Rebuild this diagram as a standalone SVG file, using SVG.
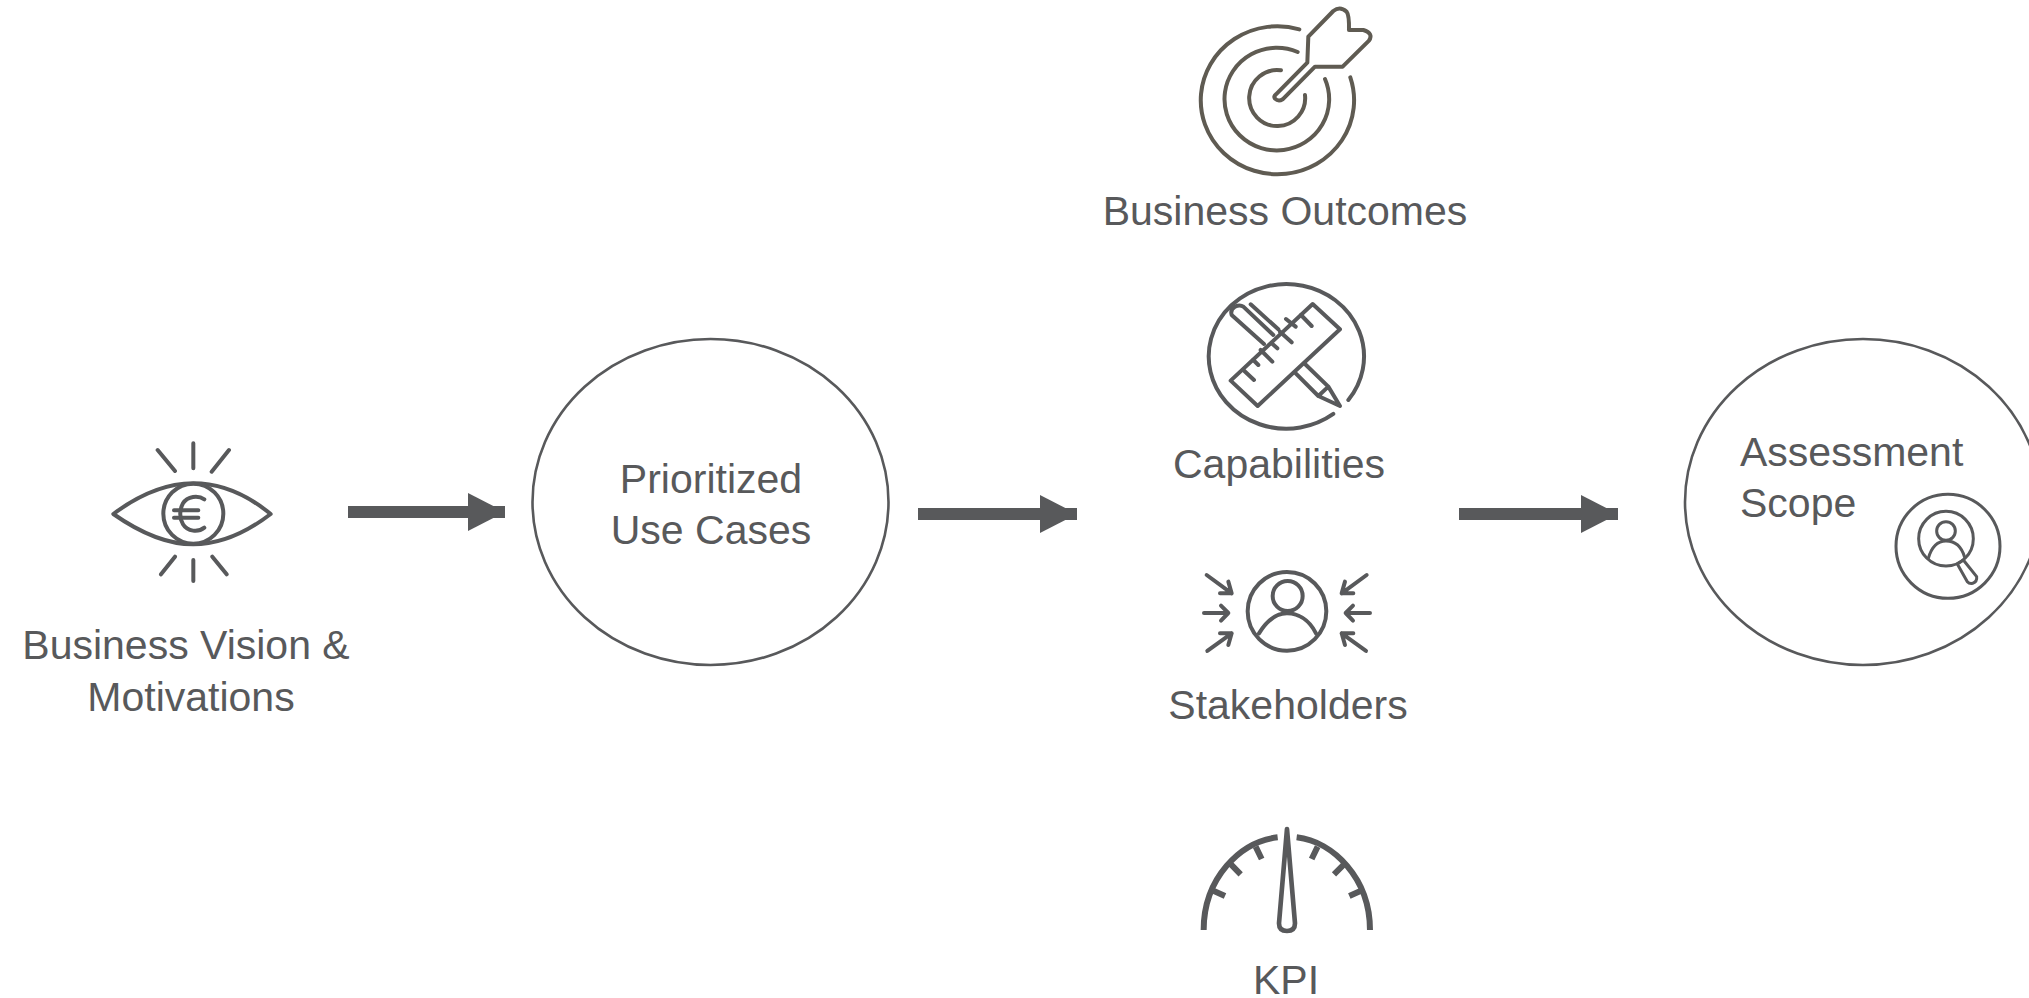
<svg xmlns="http://www.w3.org/2000/svg" width="2029" height="998" viewBox="0 0 2029 998">
<style>
text{font-family:"Liberation Sans",Arial,sans-serif;font-size:41px;fill:#58595b}
.m{text-anchor:middle}
.o{fill:none;stroke:#58595b;stroke-width:2.6px}
.i{fill:none;stroke:#58595b;stroke-width:12;stroke-linecap:round;stroke-linejoin:round}
.t{stroke:#5f5b52}
.a{fill:#58595b}
</style>
<defs>
<marker id="ah" markerUnits="userSpaceOnUse" markerWidth="37" markerHeight="38" refX="37" refY="19" orient="auto"><path class="a" d="M0 0L37 19L0 38Z"/></marker>
</defs>
<rect width="2029" height="998" fill="#fff"/>
<g id="connectors">
<line x1="348" y1="512" x2="505" y2="512" stroke="#58595b" stroke-width="12" marker-end="url(#ah)"/>
<line x1="918" y1="514" x2="1077" y2="514" stroke="#58595b" stroke-width="12" marker-end="url(#ah)"/>
<line x1="1459" y1="514" x2="1618" y2="514" stroke="#58595b" stroke-width="12" marker-end="url(#ah)"/>
</g>
<g id="vision">
<g class="i" transform="translate(100 435) scale(.3333)">
<path d="M40 237C130 170 205 145 280 145C355 145 430 170 512 237C430 300 355 328 280 328C205 328 130 300 40 237Z"/>
<circle cx="280" cy="236" r="90"/>
<path d="M313 193C295 180 262 183 249 205C238 225 238 250 249 268C262 290 295 293 313 278"/>
<path d="M222 226H295M222 248H295"/>
<path d="M280 25V100M173 45L225 108M387 45L335 110M225 365L183 418M280 375V438M337 365L380 418"/>
</g>
<text class="m" x="186" y="659">Business Vision &amp;</text>
<text class="m" x="191" y="711">Motivations</text>
</g>
<g id="usecases">
<ellipse class="o" cx="710.500" cy="502" rx="178" ry="163"/>
<text class="m" x="711" y="493">Prioritized</text>
<text class="m" x="711" y="544">Use Cases</text>
</g>
<g id="outcomes">
<g class="i t" transform="translate(1170 0) scale(.3333)">
<path d="M388 88A230 222 0 1 0 541 232"/>
<path d="M383 156A157 154 0 1 0 465 237"/>
<path d="M333 211A84 84 0 1 0 405 285"/>
<path d="M318 283L412 188L415 110L490 33Q510 17 530 35Q538 45 537 90H580Q612 100 597 122L518 200L435 200L338 298Q325 306 315 296Q310 290 318 283Z"/>
</g>
<text class="m" x="1285" y="225">Business Outcomes</text>
</g>
<g id="capabilities">
<g class="i" transform="translate(1190 270) scale(.3333)">
<path d="M475 390A233 217 0 1 0 430 432" />
<path d="M368 102L450 178L203 408L122 332Z"/>
<path d="M333 135L365 168M317 170L288 147M305 217L270 185M262 235L245 220M247 275L212 240M205 285L190 270M192 330L160 300"/>
<path d="M222 222L125 135Q120 118 135 110Q150 103 160 110L250 195M182 103L265 178M315 308L385 378L415 350L345 282M385 378L450 408L415 350"/>
</g>
<text class="m" x="1279" y="478">Capabilities</text>
</g>
<g id="stakeholders">
<g class="i" transform="translate(1190 555) scale(.3333)">
<circle cx="291" cy="169" r="118"/>
<circle cx="293" cy="123" r="45"/>
<path d="M207 235C235 190 265 175 291 175C320 175 355 190 378 235"/>
<path d="M50 60L125 115M115 80L125 115H90M42 174H115M93 152L115 174L93 197M52 288L125 235M90 235H125L115 270"/>
<path d="M530 60L455 115M465 80L455 115H490M540 174H467M489 152L467 174L489 197M528 288L455 235M490 235H455L465 270"/>
</g>
<text class="m" x="1288" y="719">Stakeholders</text>
</g>
<g id="kpi">
<g class="i" transform="translate(1190 815) scale(.3333)" style="stroke-linecap:butt;stroke-width:18">
<path d="M41 345C41 190 150 80 263 67M320 67C430 80 540 190 540 345"/>
<path d="M65 225L105 243M120 145L152 178M197 95L215 132M383 95L365 132M465 145L432 178M518 225L478 243"/>
<path style="stroke-width:14;stroke-linejoin:round" d="M291 42L315 325Q315 348 291 348Q267 348 267 325Z"/>
</g>
<text class="m" x="1286" y="994">KPI</text>
</g>
<g id="scope">
<ellipse class="o" cx="1863" cy="502" rx="178" ry="163"/>
<text x="1740" y="466">Assessment</text>
<text x="1740" y="517">Scope</text>
<g class="i" style="stroke-width:9" transform="translate(1880 480) scale(.3333)">
<circle cx="204" cy="199" r="156"/>
<circle cx="198" cy="176" r="82"/>
<circle cx="198" cy="153" r="28"/>
<path d="M145 235C155 200 175 183 198 183C225 183 245 200 254 232"/>
<path d="M232 252L250 240L290 290Q292 305 278 310Q268 312 262 305Z"/>
</g>
</g>
</svg>
